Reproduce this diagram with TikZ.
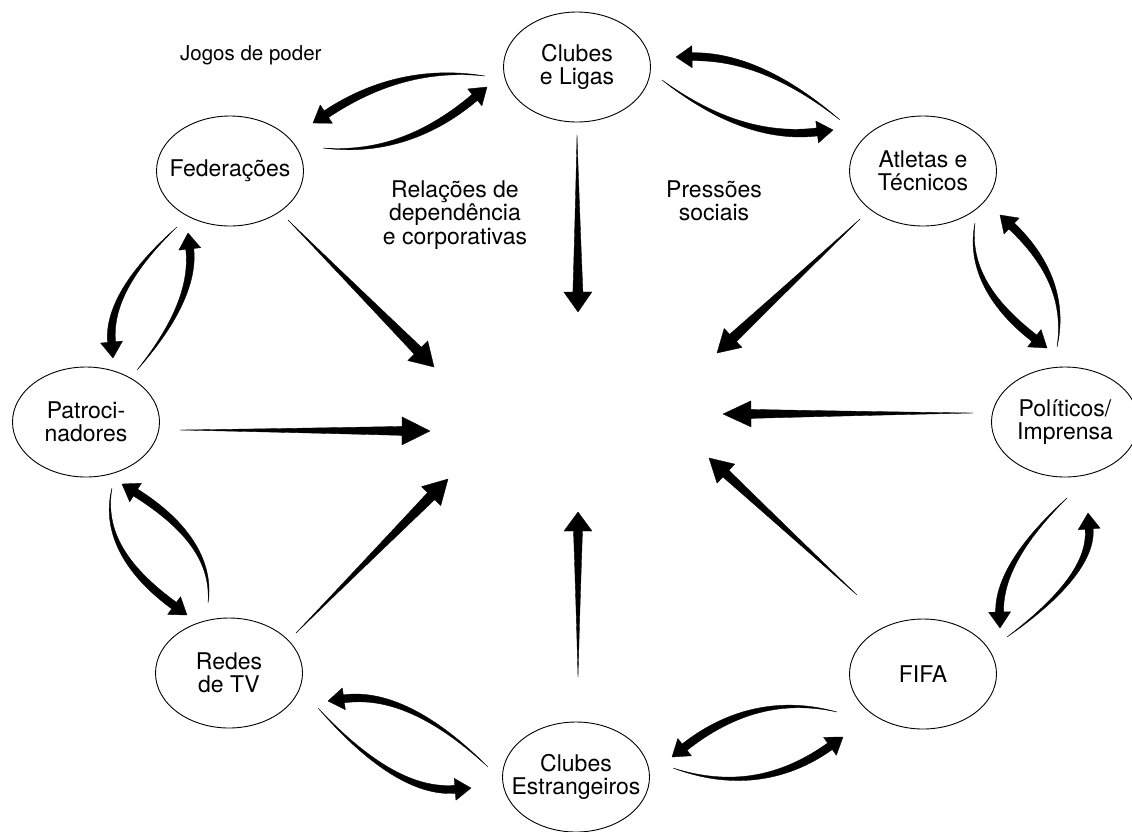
\documentclass[tikz,border=0pt]{standalone}
\usepackage{fontspec}
\setmainfont{TeX Gyre Heros}
\usetikzlibrary{calc,shapes.geometric}
% tapered arrow: #1 start (thin), #2 point near middle of path, #3 tip,
% #4 shaft width at head, #5 head length, #6 head width
% \tapA and \tapB: fraction of the shaft width used as half-offset of the two control points
\newcommand{\tapA}{0.1667}
\newcommand{\tapB}{0.3333}
\newcommand{\taparrow}[6]{%
  \coordinate (ts) at (#1);
  \coordinate (tm) at (#2);
  \coordinate (tt) at (#3);
  \path ($2*(tm)-0.5*(ts)-0.5*(tt)$) coordinate (tq);
  \path ($(tt)!#5!(tq)$) coordinate (tb);
  \path ($(ts)!0.66667!(tq)$) coordinate (tc1);
  \path ($(tb)!0.66667!(tq)$) coordinate (tc2);
  \filldraw[taper]
    (ts) .. controls ($(tc1)!\tapA*#4!90:(tq)$) and ($(tc2)!\tapB*#4!90:(tb)$) .. ($(tb)!#4/2!-90:(tq)$)
    -- ($(tb)!#6/2!-90:(tq)$) -- (tt) -- ($(tb)!#6/2!90:(tq)$) -- ($(tb)!#4/2!90:(tq)$)
    .. controls ($(tc2)!\tapB*#4!-90:(tb)$) and ($(tc1)!\tapA*#4!-90:(tq)$) .. (ts) -- cycle;
}
\tikzset{
  actor/.style={draw, ellipse, line width=0.9pt, minimum width=147pt, minimum height=110pt, inner sep=0pt},
  lbl/.style={align=center, inner sep=0pt, font=\fontsize{23}{23.5}\selectfont},
  taper/.style={fill=black, draw=black, line width=0.35pt, line join=round},
}
\begin{document}
\begin{tikzpicture}[x=1pt,y=-1pt]
\useasboundingbox (0,0) rectangle (1132,831);
\fill[white] (0,0) rectangle (1132,831);

% actors
\node[actor] (clubes) at (577,67) {};
\node[actor] (atletas) at (923,171) {};
\node[actor] (fed) at (230,171) {};
\node[actor] (patro) at (86,422) {};
\node[actor] (pol) at (1065,422) {};
\node[actor] (redes) at (229,673) {};
\node[actor] (fifa) at (923,674) {};
\node[actor] (estr) at (576,777) {};

\node[lbl] (tclubes) at (clubes) {Clubes\\e Ligas};
\node[lbl] (tatletas) at (atletas) {Atletas e\\Técnicos};
\node[lbl] (tfed) at (fed) {Federações};
\node[lbl] (tpatro) at (patro) {Patroci-\\nadores};
\node[lbl] (tpol) at (pol) {Políticos/\\Imprensa};
\node[lbl] (tredes) at (redes) {Redes\\de TV};
\node[lbl] (tfifa) at (fifa) {FIFA};
\node[lbl] (testr) at (estr) {Clubes\\Estrangeiros};

% free labels
\node[anchor=base west, inner sep=0pt, font=\fontsize{20.5}{21}\selectfont] (jogos) at (180,60) {Jogos de poder};
\node[lbl] (rel) at (455,215) {Relações de\\dependência\\e corporativas};
\node[lbl] (press) at (714,201) {Pressões\\sociais};

% radial arrows towards the centre (linear taper)
\taparrow{288,220}{361,293.5}{434,367}{10pt}{23pt}{28pt}
\taparrow{577,135}{577.5,223.5}{578,312}{10pt}{20pt}{28pt}
\taparrow{860,219}{788.5,286}{717,353}{10pt}{22pt}{26pt}
\taparrow{973,413}{848,413.5}{723,414}{9pt}{28pt}{26pt}
\taparrow{857,595}{783,526.5}{709,458}{9pt}{23pt}{26pt}
\taparrow{578,677}{578,594.5}{578,512}{9pt}{19pt}{28pt}
\taparrow{296,633}{372,556}{448,479}{10pt}{24pt}{27pt}
\taparrow{180,430}{305,430.5}{430,431}{9pt}{28pt}{28pt}

% curved arrows between neighbours (faster taper)
\renewcommand{\tapA}{0.22}
\renewcommand{\tapB}{0.5}
\taparrow{485,76}{400,82}{313,123}{8pt}{16pt}{22pt}
\taparrow{323,148}{405,137}{487,87}{8pt}{16pt}{22pt}
\taparrow{840,120}{760,72}{676,57}{8pt}{16pt}{22pt}
\taparrow{662,80}{745,123}{833,130}{8pt}{16pt}{22pt}
\taparrow{1057,347}{1049,281}{1000,215}{8pt}{16pt}{22pt}
\taparrow{975,223}{988,285}{1047,348}{8pt}{16pt}{22pt}
\taparrow{1067,498}{1016,563}{1000,628}{8pt}{16pt}{22pt}
\taparrow{1007,637}{1070,575}{1088,513}{8pt}{16pt}{22pt}
\taparrow{837,712}{755,713}{672,757}{8pt}{16pt}{22pt}
\taparrow{673,768}{758,775}{843,737}{8pt}{16pt}{22pt}
\taparrow{488,767}{408,712}{328,701}{8pt}{16pt}{22pt}
\taparrow{318,708}{395,771}{471,788}{8pt}{16pt}{22pt}
\taparrow{208,603}{190,543}{122,484}{8pt}{16pt}{22pt}
\taparrow{112,488}{124,551}{187,615}{8pt}{16pt}{22pt}
\taparrow{177,227}{126,292}{113,358}{8pt}{16pt}{22pt}
\taparrow{137,370}{179,301}{188,233}{8pt}{16pt}{22pt}
\end{tikzpicture}
\end{document}
